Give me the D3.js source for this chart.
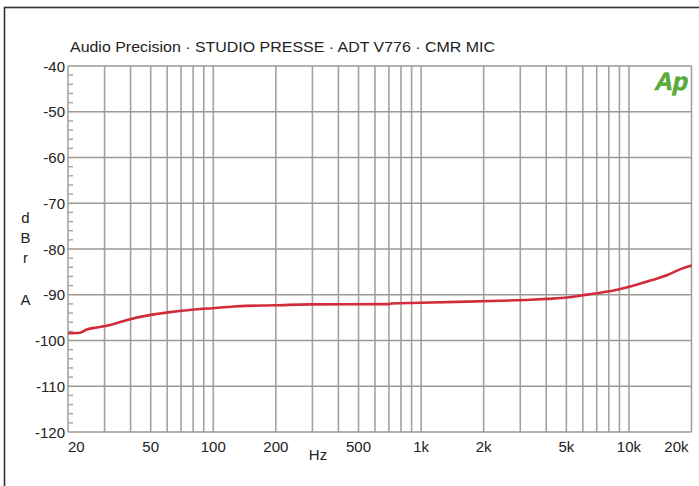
<!DOCTYPE html>
<html>
<head>
<meta charset="utf-8">
<script src="https://cdn.jsdelivr.net/npm/d3@7/dist/d3.min.js"></script>
<style>
  html, body { margin: 0; padding: 0; background: #fff; }
  svg { display: block; }
  text { font-family: "Liberation Sans", Arial, sans-serif; fill: #222; }
</style>
</head>
<body>
<svg id="chart" width="699" height="486"></svg>
<script>
// Measured response: frequency (Hz) and level (dBrA)
const freqs = [20, 22.8, 24.6, 28, 31.9, 38.5, 50, 62, 86.4, 100, 130, 200, 292, 700, 718, 1000, 1668, 2404, 3354, 4045, 5049, 6033, 7281, 8792, 10160, 12680, 15310, 17700, 20000];
const levels = [-98.4, -98.3, -97.6, -97.1, -96.6, -95.5, -94.4, -93.8, -93.1, -92.95, -92.5, -92.3, -92.1, -92.05, -91.9, -91.75, -91.5, -91.3, -91.1, -90.9, -90.6, -90.1, -89.55, -88.9, -88.2, -86.9, -85.7, -84.4, -83.6];

// Axis ticks
const xGridFreqs = [20, 30, 40, 50, 60, 70, 80, 90, 100, 200, 300, 400, 500, 600, 700, 800, 900, 1000, 2000, 3000, 4000, 5000, 6000, 7000, 8000, 9000, 10000, 20000];
const xTickFreqs = [20, 50, 100, 200, 500, 1000, 2000, 5000, 10000, 20000];
const xTickLabels = ["20", "50", "100", "200", "500", "1k", "2k", "5k", "10k", "20k"];
const yTicks = [-40, -50, -60, -70, -80, -90, -100, -110, -120];
const yMinorTicks = d3.range(-120, -40, 2);

const titleText = "Audio Precision \u00b7 STUDIO PRESSE \u00b7 ADT V776 \u00b7 CMR MIC";
const yAxisLetters = ["d", "B", "r", "A"];

const svg = d3.select("#chart");
const plotLeft = 68, plotRight = 691.5, plotTop = 66, plotBottom = 432;

const x = d3.scaleLog().domain([20, 20000]).range([plotLeft, plotRight]);
const y = d3.scaleLinear().domain([-120, -40]).range([plotBottom, plotTop]);

// Outer frame
svg.append("rect")
  .attr("x", 4.5).attr("y", 7.5)
  .attr("width", 720).attr("height", 520)
  .attr("fill", "none").attr("stroke", "#333").attr("stroke-width", 1.6);

// Title
svg.append("text")
  .attr("x", 70).attr("y", 52)
  .attr("font-size", 15)
  .attr("textLength", 425)
  .attr("lengthAdjust", "spacingAndGlyphs")
  .text(titleText);

const gridColor = "#a7a29e";

// Vertical grid
svg.append("g").selectAll("line").data(xGridFreqs).join("line")
  .attr("x1", d => x(d)).attr("x2", d => x(d))
  .attr("y1", plotTop).attr("y2", plotBottom)
  .attr("stroke", gridColor).attr("stroke-width", 1.6);

// Horizontal grid
svg.append("g").selectAll("line").data(yTicks).join("line")
  .attr("x1", plotLeft).attr("x2", plotRight)
  .attr("y1", d => y(d)).attr("y2", d => y(d))
  .attr("stroke", "#9d9995").attr("stroke-width", 1.6);

// Minor ticks on left axis
svg.append("g").selectAll("line").data(yMinorTicks.filter(v => v % 10 !== 0)).join("line")
  .attr("x1", plotLeft).attr("x2", plotLeft + 5)
  .attr("y1", d => y(d)).attr("y2", d => y(d))
  .attr("stroke", gridColor).attr("stroke-width", 1.4);

// Y labels
svg.append("g").selectAll("text").data(yTicks).join("text")
  .attr("x", 65).attr("y", d => y(d) + 5.5)
  .attr("text-anchor", "end")
  .attr("font-size", 15)
  .text(d => d);

// X labels
svg.append("g").selectAll("text").data(xTickFreqs).join("text")
  .attr("x", (d, i) => i === 0 ? plotLeft : (i === xTickFreqs.length - 1 ? plotRight - 3 : x(d)))
  .attr("y", 452)
  .attr("text-anchor", (d, i) => i === 0 ? "start" : (i === xTickFreqs.length - 1 ? "end" : "middle"))
  .attr("font-size", 15)
  .text((d, i) => xTickLabels[i]);

// X axis title
svg.append("text")
  .attr("x", 318).attr("y", 460)
  .attr("text-anchor", "middle")
  .attr("font-size", 15)
  .text("Hz");

// Y axis title, stacked letters
const letterY = [223, 243, 263, 305];
svg.append("g").selectAll("text").data(yAxisLetters).join("text")
  .attr("x", 25.5).attr("y", (d, i) => letterY[i])
  .attr("text-anchor", "middle")
  .attr("font-size", 15)
  .text(d => d);

// Response curve
const line = d3.line()
  .x((d, i) => x(freqs[i]))
  .y(d => y(d))
  .curve(d3.curveMonotoneX);
svg.append("path")
  .datum(levels)
  .attr("d", line)
  .attr("fill", "none")
  .attr("stroke", "#d02c3a")
  .attr("stroke-width", 2.6);

// Ap logo, slanted heavy lettering
svg.append("text")
  .attr("transform", "translate(670,90) skewX(-12)")
  .attr("text-anchor", "middle")
  .attr("font-size", 25)
  .attr("font-weight", "bold")
  .attr("letter-spacing", -0.5)
  .style("fill", "#5aab3a")
  .style("stroke", "#5aab3a")
  .style("stroke-width", 0.7)
  .text("Ap");
</script>
</body>
</html>
